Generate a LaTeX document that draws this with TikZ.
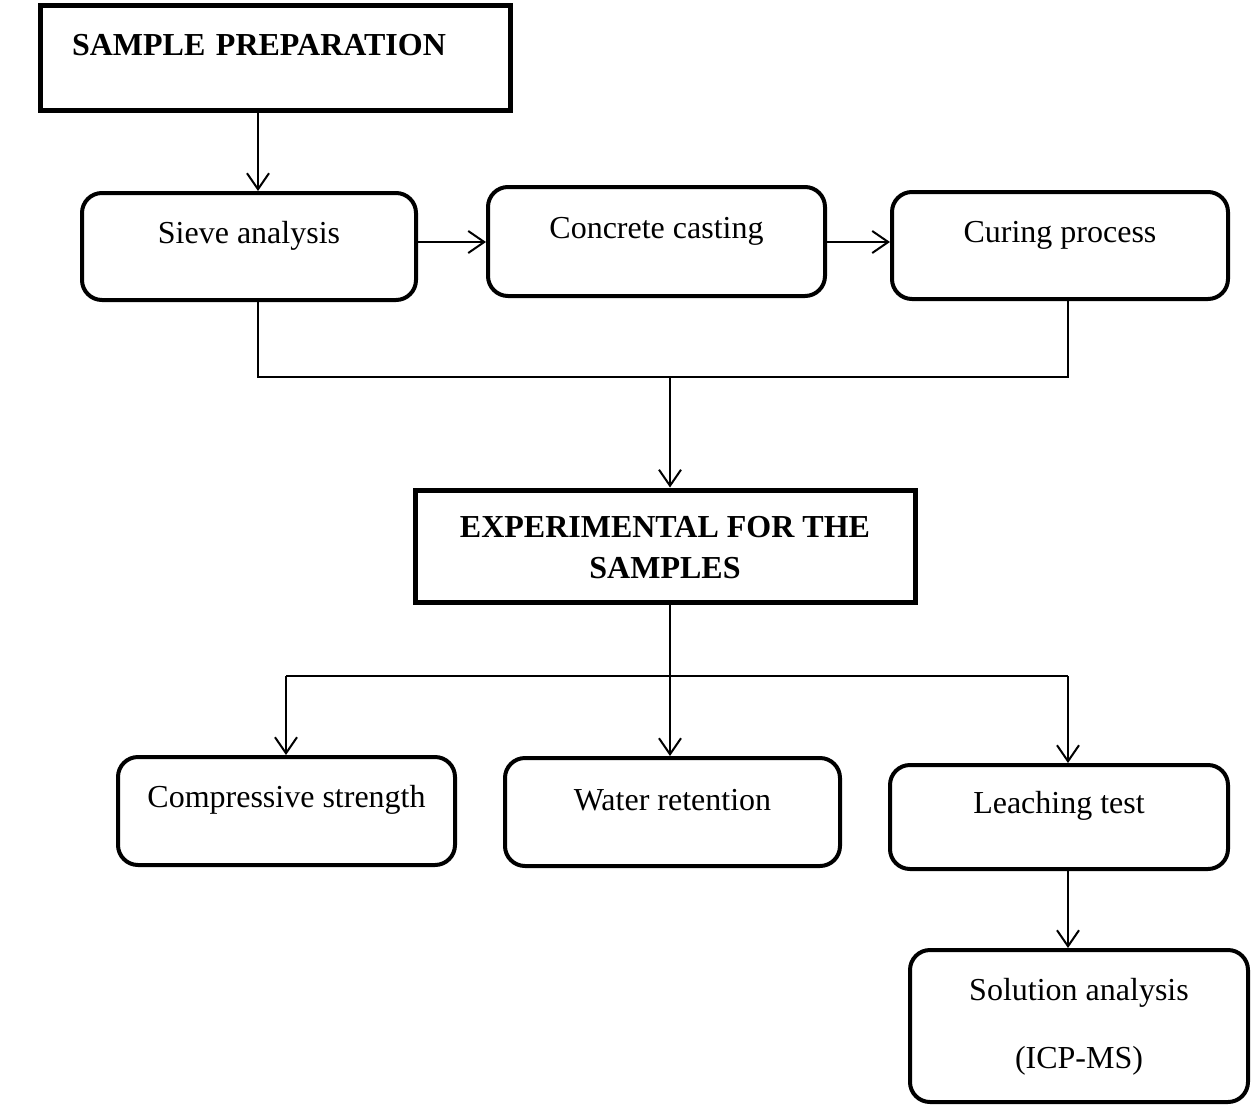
\documentclass[tikz,border=0pt]{standalone}
\usepackage{fontspec}
\setmainfont{Liberation Serif}
\usetikzlibrary{arrows.meta,positioning}

\begin{document}
\begin{tikzpicture}[x=0.5pt, y=-0.5pt, >={Straight Barb[width=11pt,length=8pt]}, line width=1pt,
	stage/.style={draw, line width=2pt, rounded corners=10pt, inner sep=0pt, align=center, font=\fontsize{16}{34}\selectfont},
	head/.style={draw, line width=2.5pt, inner sep=0pt, font=\bfseries\fontsize{16}{20.5}\selectfont}]
	\useasboundingbox (0,0) rectangle (1254,1104);
	\draw (275,57.5)node[head, minimum width=235pt, text width=203pt, inner xsep=16pt, align=left, text height=25pt, text depth=27.5pt](prep){SAMPLE PREPARATION};
	\draw (249,246.5)node[stage, minimum width=167pt, text height=25pt, text depth=28.5pt](sieve){Sieve analysis};
	\draw (656.5,241.5)node[stage, minimum width=168.5pt, text height=25.5pt, text depth=29pt](cast){Concrete casting};
	\draw (1060,245.5)node[stage, minimum width=168pt, text height=25pt, text depth=28.5pt](cure){Curing process};
	\draw (665,546)node[head, minimum width=250pt, align=center, text height=44pt, text depth=12pt](exp){EXPERIMENTAL FOR THE\\SAMPLES};
	\draw (286.5,811)node[stage, minimum width=168.5pt, text height=25pt, text depth=29pt](comp){Compressive strength};
	\draw (672.5,812)node[stage, minimum width=167.5pt, text height=26pt, text depth=28pt](water){Water retention};
	\draw (1059,817)node[stage, minimum width=169pt, text height=24pt, text depth=28pt](leach){Leaching test};
	\draw (1079,1026)node[stage, minimum width=169pt, text height=59pt, text depth=17pt](sol){Solution analysis\\(ICP-MS)};
	% junctions
	\coordinate (lft) at (258,377);
	\coordinate (j1) at (670,377);
	\coordinate (rgt) at (1068,377);
	\coordinate (row) at (0,242);
	\coordinate (j2) at (670,676);
	\coordinate (cl) at (286,676);
	\coordinate (cr) at (1068,676);
	\draw[->] (prep.south -| lft) -- (sieve.north -| lft);
	\draw[->] (sieve.east |- row) -- (cast.west |- row);
	\draw[->] (cast.east |- row) -- (cure.west |- row);
	\draw (sieve.south -| lft) -- (lft) -- (rgt) -- (cure.south -| rgt);
	\draw[->] (j1) -- (exp.north -| j1);
	\draw (exp.south -| j2) -- (j2);
	\draw (cl) -- (cr);
	\draw[->] (j2) -- (water.north -| j2);
	\draw[->] (cl) -- (comp.north -| cl);
	\draw[->] (cr) -- (leach.north -| cr);
	\draw[->] (leach.south -| cr) -- (sol.north -| cr);
\end{tikzpicture}
\end{document}
